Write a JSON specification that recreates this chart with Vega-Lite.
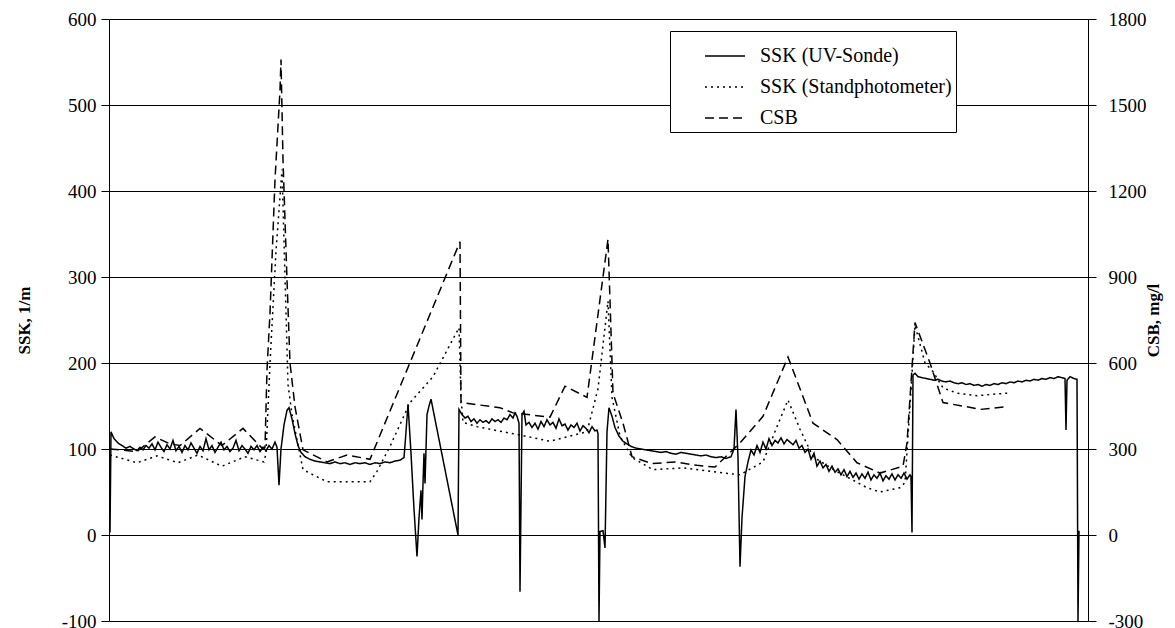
{
  "$schema": "https://vega.github.io/schema/vega-lite/v6.json",
  "autosize": {"type": "none"},
  "padding": {"left": 109, "top": 19, "right": 87, "bottom": 7},
  "width": 979,
  "height": 602,
  "background": "white",
  "config": {
    "view": {"stroke": null},
    "font": "Liberation Serif",
    "axis": {"labelFont": "Liberation Serif", "titleFont": "Liberation Serif", "labelColor": "black", "titleColor": "black", "domainColor": "black", "tickColor": "black"},
    "legend": {
      "orient": "none", "legendX": 561, "legendY": 12,
      "strokeColor": "black", "fillColor": "white", "padding": 4,
      "labelFont": "Liberation Serif", "labelFontSize": 20, "labelColor": "black", "labelLimit": 500,
      "symbolType": "stroke", "symbolStrokeWidth": 1.5, "symbolSize": 1600, "symbolStrokeColor": "black",
      "symbolOffset": 30, "labelOffset": 14, "rowPadding": 0, "title": null
    }
  },
  "datasets": {
    "ssk": [
      {"t":1,"series":"SSK (UV-Sonde)","v":3},{"t":2,"series":"SSK (UV-Sonde)","v":120},{"t":5,"series":"SSK (UV-Sonde)","v":112},{"t":9,"series":"SSK (UV-Sonde)","v":107},{"t":13,"series":"SSK (UV-Sonde)","v":104},{"t":17,"series":"SSK (UV-Sonde)","v":101},{"t":21,"series":"SSK (UV-Sonde)","v":103},{"t":25,"series":"SSK (UV-Sonde)","v":100},{"t":28,"series":"SSK (UV-Sonde)","v":98},{"t":31,"series":"SSK (UV-Sonde)","v":102},{"t":34,"series":"SSK (UV-Sonde)","v":99},{"t":37,"series":"SSK (UV-Sonde)","v":104},{"t":40,"series":"SSK (UV-Sonde)","v":101},{"t":43,"series":"SSK (UV-Sonde)","v":106},{"t":46,"series":"SSK (UV-Sonde)","v":99},{"t":49,"series":"SSK (UV-Sonde)","v":108},{"t":52,"series":"SSK (UV-Sonde)","v":102},{"t":55,"series":"SSK (UV-Sonde)","v":97},{"t":58,"series":"SSK (UV-Sonde)","v":105},{"t":61,"series":"SSK (UV-Sonde)","v":100},{"t":64,"series":"SSK (UV-Sonde)","v":110},{"t":67,"series":"SSK (UV-Sonde)","v":98},{"t":70,"series":"SSK (UV-Sonde)","v":103},{"t":73,"series":"SSK (UV-Sonde)","v":96},{"t":76,"series":"SSK (UV-Sonde)","v":104},{"t":79,"series":"SSK (UV-Sonde)","v":99},{"t":82,"series":"SSK (UV-Sonde)","v":107},{"t":85,"series":"SSK (UV-Sonde)","v":101},{"t":88,"series":"SSK (UV-Sonde)","v":95},{"t":91,"series":"SSK (UV-Sonde)","v":103},{"t":94,"series":"SSK (UV-Sonde)","v":98},{"t":97,"series":"SSK (UV-Sonde)","v":112},{"t":100,"series":"SSK (UV-Sonde)","v":99},{"t":103,"series":"SSK (UV-Sonde)","v":104},{"t":106,"series":"SSK (UV-Sonde)","v":96},{"t":109,"series":"SSK (UV-Sonde)","v":102},{"t":112,"series":"SSK (UV-Sonde)","v":108},{"t":115,"series":"SSK (UV-Sonde)","v":99},{"t":118,"series":"SSK (UV-Sonde)","v":103},{"t":121,"series":"SSK (UV-Sonde)","v":97},{"t":124,"series":"SSK (UV-Sonde)","v":101},{"t":127,"series":"SSK (UV-Sonde)","v":110},{"t":130,"series":"SSK (UV-Sonde)","v":98},{"t":133,"series":"SSK (UV-Sonde)","v":104},{"t":136,"series":"SSK (UV-Sonde)","v":100},{"t":139,"series":"SSK (UV-Sonde)","v":95},{"t":142,"series":"SSK (UV-Sonde)","v":103},{"t":145,"series":"SSK (UV-Sonde)","v":99},{"t":148,"series":"SSK (UV-Sonde)","v":104},{"t":151,"series":"SSK (UV-Sonde)","v":97},{"t":154,"series":"SSK (UV-Sonde)","v":102},{"t":157,"series":"SSK (UV-Sonde)","v":98},{"t":160,"series":"SSK (UV-Sonde)","v":104},{"t":163,"series":"SSK (UV-Sonde)","v":100},{"t":166,"series":"SSK (UV-Sonde)","v":108},{"t":168,"series":"SSK (UV-Sonde)","v":102},{"t":170,"series":"SSK (UV-Sonde)","v":58},{"t":172,"series":"SSK (UV-Sonde)","v":100},{"t":175,"series":"SSK (UV-Sonde)","v":128},{"t":178,"series":"SSK (UV-Sonde)","v":145},{"t":180,"series":"SSK (UV-Sonde)","v":148},{"t":183,"series":"SSK (UV-Sonde)","v":135},{"t":186,"series":"SSK (UV-Sonde)","v":118},{"t":189,"series":"SSK (UV-Sonde)","v":104},{"t":192,"series":"SSK (UV-Sonde)","v":96},{"t":196,"series":"SSK (UV-Sonde)","v":91},{"t":201,"series":"SSK (UV-Sonde)","v":88},{"t":206,"series":"SSK (UV-Sonde)","v":86},{"t":211,"series":"SSK (UV-Sonde)","v":85},{"t":216,"series":"SSK (UV-Sonde)","v":84},{"t":221,"series":"SSK (UV-Sonde)","v":83},{"t":226,"series":"SSK (UV-Sonde)","v":85},{"t":231,"series":"SSK (UV-Sonde)","v":83},{"t":236,"series":"SSK (UV-Sonde)","v":84},{"t":241,"series":"SSK (UV-Sonde)","v":82},{"t":246,"series":"SSK (UV-Sonde)","v":84},{"t":251,"series":"SSK (UV-Sonde)","v":83},{"t":256,"series":"SSK (UV-Sonde)","v":84},{"t":261,"series":"SSK (UV-Sonde)","v":82},{"t":266,"series":"SSK (UV-Sonde)","v":84},{"t":271,"series":"SSK (UV-Sonde)","v":83},{"t":276,"series":"SSK (UV-Sonde)","v":85},{"t":281,"series":"SSK (UV-Sonde)","v":84},{"t":286,"series":"SSK (UV-Sonde)","v":86},{"t":291,"series":"SSK (UV-Sonde)","v":87},{"t":295,"series":"SSK (UV-Sonde)","v":90},{"t":297,"series":"SSK (UV-Sonde)","v":120},{"t":299,"series":"SSK (UV-Sonde)","v":152},{"t":302,"series":"SSK (UV-Sonde)","v":95},{"t":305,"series":"SSK (UV-Sonde)","v":30},{"t":308,"series":"SSK (UV-Sonde)","v":-25},{"t":310,"series":"SSK (UV-Sonde)","v":20},{"t":312,"series":"SSK (UV-Sonde)","v":52},{"t":313,"series":"SSK (UV-Sonde)","v":18},{"t":314,"series":"SSK (UV-Sonde)","v":60},{"t":315,"series":"SSK (UV-Sonde)","v":95},{"t":316,"series":"SSK (UV-Sonde)","v":60},{"t":318,"series":"SSK (UV-Sonde)","v":140},{"t":320,"series":"SSK (UV-Sonde)","v":150},{"t":322,"series":"SSK (UV-Sonde)","v":158},{"t":349,"series":"SSK (UV-Sonde)","v":0},{"t":350,"series":"SSK (UV-Sonde)","v":146},{"t":353,"series":"SSK (UV-Sonde)","v":140},{"t":356,"series":"SSK (UV-Sonde)","v":136},{"t":359,"series":"SSK (UV-Sonde)","v":138},{"t":362,"series":"SSK (UV-Sonde)","v":132},{"t":365,"series":"SSK (UV-Sonde)","v":135},{"t":368,"series":"SSK (UV-Sonde)","v":130},{"t":371,"series":"SSK (UV-Sonde)","v":134},{"t":374,"series":"SSK (UV-Sonde)","v":131},{"t":377,"series":"SSK (UV-Sonde)","v":133},{"t":380,"series":"SSK (UV-Sonde)","v":130},{"t":383,"series":"SSK (UV-Sonde)","v":135},{"t":386,"series":"SSK (UV-Sonde)","v":132},{"t":389,"series":"SSK (UV-Sonde)","v":134},{"t":392,"series":"SSK (UV-Sonde)","v":131},{"t":395,"series":"SSK (UV-Sonde)","v":136},{"t":398,"series":"SSK (UV-Sonde)","v":134},{"t":401,"series":"SSK (UV-Sonde)","v":140},{"t":404,"series":"SSK (UV-Sonde)","v":136},{"t":406,"series":"SSK (UV-Sonde)","v":142},{"t":408,"series":"SSK (UV-Sonde)","v":138},{"t":410,"series":"SSK (UV-Sonde)","v":130},{"t":411,"series":"SSK (UV-Sonde)","v":-66},{"t":413,"series":"SSK (UV-Sonde)","v":140},{"t":415,"series":"SSK (UV-Sonde)","v":144},{"t":417,"series":"SSK (UV-Sonde)","v":128},{"t":420,"series":"SSK (UV-Sonde)","v":131},{"t":423,"series":"SSK (UV-Sonde)","v":125},{"t":426,"series":"SSK (UV-Sonde)","v":130},{"t":429,"series":"SSK (UV-Sonde)","v":123},{"t":432,"series":"SSK (UV-Sonde)","v":132},{"t":435,"series":"SSK (UV-Sonde)","v":126},{"t":438,"series":"SSK (UV-Sonde)","v":134},{"t":441,"series":"SSK (UV-Sonde)","v":128},{"t":444,"series":"SSK (UV-Sonde)","v":131},{"t":447,"series":"SSK (UV-Sonde)","v":124},{"t":450,"series":"SSK (UV-Sonde)","v":135},{"t":453,"series":"SSK (UV-Sonde)","v":127},{"t":456,"series":"SSK (UV-Sonde)","v":129},{"t":459,"series":"SSK (UV-Sonde)","v":122},{"t":462,"series":"SSK (UV-Sonde)","v":128},{"t":465,"series":"SSK (UV-Sonde)","v":125},{"t":468,"series":"SSK (UV-Sonde)","v":130},{"t":471,"series":"SSK (UV-Sonde)","v":121},{"t":474,"series":"SSK (UV-Sonde)","v":127},{"t":477,"series":"SSK (UV-Sonde)","v":124},{"t":480,"series":"SSK (UV-Sonde)","v":119},{"t":483,"series":"SSK (UV-Sonde)","v":126},{"t":486,"series":"SSK (UV-Sonde)","v":121},{"t":488,"series":"SSK (UV-Sonde)","v":122},{"t":489,"series":"SSK (UV-Sonde)","v":118},{"t":490,"series":"SSK (UV-Sonde)","v":-100},{"t":491,"series":"SSK (UV-Sonde)","v":4},{"t":494,"series":"SSK (UV-Sonde)","v":5},{"t":496,"series":"SSK (UV-Sonde)","v":-15},{"t":498,"series":"SSK (UV-Sonde)","v":120},{"t":500,"series":"SSK (UV-Sonde)","v":148},{"t":503,"series":"SSK (UV-Sonde)","v":138},{"t":506,"series":"SSK (UV-Sonde)","v":125},{"t":510,"series":"SSK (UV-Sonde)","v":115},{"t":514,"series":"SSK (UV-Sonde)","v":109},{"t":518,"series":"SSK (UV-Sonde)","v":106},{"t":522,"series":"SSK (UV-Sonde)","v":103},{"t":527,"series":"SSK (UV-Sonde)","v":101},{"t":532,"series":"SSK (UV-Sonde)","v":100},{"t":537,"series":"SSK (UV-Sonde)","v":99},{"t":542,"series":"SSK (UV-Sonde)","v":98},{"t":547,"series":"SSK (UV-Sonde)","v":97},{"t":552,"series":"SSK (UV-Sonde)","v":96},{"t":557,"series":"SSK (UV-Sonde)","v":97},{"t":562,"series":"SSK (UV-Sonde)","v":95},{"t":567,"series":"SSK (UV-Sonde)","v":94},{"t":572,"series":"SSK (UV-Sonde)","v":96},{"t":577,"series":"SSK (UV-Sonde)","v":95},{"t":582,"series":"SSK (UV-Sonde)","v":94},{"t":587,"series":"SSK (UV-Sonde)","v":93},{"t":592,"series":"SSK (UV-Sonde)","v":92},{"t":597,"series":"SSK (UV-Sonde)","v":93},{"t":602,"series":"SSK (UV-Sonde)","v":91},{"t":607,"series":"SSK (UV-Sonde)","v":90},{"t":612,"series":"SSK (UV-Sonde)","v":91},{"t":617,"series":"SSK (UV-Sonde)","v":89},{"t":622,"series":"SSK (UV-Sonde)","v":91},{"t":625,"series":"SSK (UV-Sonde)","v":100},{"t":627,"series":"SSK (UV-Sonde)","v":146},{"t":629,"series":"SSK (UV-Sonde)","v":90},{"t":631,"series":"SSK (UV-Sonde)","v":-37},{"t":633,"series":"SSK (UV-Sonde)","v":20},{"t":636,"series":"SSK (UV-Sonde)","v":68},{"t":639,"series":"SSK (UV-Sonde)","v":85},{"t":642,"series":"SSK (UV-Sonde)","v":99},{"t":645,"series":"SSK (UV-Sonde)","v":93},{"t":648,"series":"SSK (UV-Sonde)","v":104},{"t":651,"series":"SSK (UV-Sonde)","v":96},{"t":654,"series":"SSK (UV-Sonde)","v":108},{"t":657,"series":"SSK (UV-Sonde)","v":100},{"t":660,"series":"SSK (UV-Sonde)","v":112},{"t":663,"series":"SSK (UV-Sonde)","v":104},{"t":666,"series":"SSK (UV-Sonde)","v":110},{"t":669,"series":"SSK (UV-Sonde)","v":107},{"t":672,"series":"SSK (UV-Sonde)","v":113},{"t":675,"series":"SSK (UV-Sonde)","v":106},{"t":678,"series":"SSK (UV-Sonde)","v":111},{"t":681,"series":"SSK (UV-Sonde)","v":108},{"t":684,"series":"SSK (UV-Sonde)","v":105},{"t":687,"series":"SSK (UV-Sonde)","v":110},{"t":690,"series":"SSK (UV-Sonde)","v":101},{"t":693,"series":"SSK (UV-Sonde)","v":104},{"t":696,"series":"SSK (UV-Sonde)","v":96},{"t":699,"series":"SSK (UV-Sonde)","v":100},{"t":702,"series":"SSK (UV-Sonde)","v":88},{"t":705,"series":"SSK (UV-Sonde)","v":95},{"t":708,"series":"SSK (UV-Sonde)","v":80},{"t":711,"series":"SSK (UV-Sonde)","v":86},{"t":714,"series":"SSK (UV-Sonde)","v":78},{"t":717,"series":"SSK (UV-Sonde)","v":82},{"t":720,"series":"SSK (UV-Sonde)","v":74},{"t":723,"series":"SSK (UV-Sonde)","v":80},{"t":726,"series":"SSK (UV-Sonde)","v":73},{"t":729,"series":"SSK (UV-Sonde)","v":77},{"t":732,"series":"SSK (UV-Sonde)","v":70},{"t":735,"series":"SSK (UV-Sonde)","v":76},{"t":738,"series":"SSK (UV-Sonde)","v":68},{"t":741,"series":"SSK (UV-Sonde)","v":74},{"t":744,"series":"SSK (UV-Sonde)","v":67},{"t":747,"series":"SSK (UV-Sonde)","v":72},{"t":750,"series":"SSK (UV-Sonde)","v":65},{"t":753,"series":"SSK (UV-Sonde)","v":71},{"t":756,"series":"SSK (UV-Sonde)","v":66},{"t":759,"series":"SSK (UV-Sonde)","v":73},{"t":762,"series":"SSK (UV-Sonde)","v":64},{"t":765,"series":"SSK (UV-Sonde)","v":70},{"t":768,"series":"SSK (UV-Sonde)","v":66},{"t":771,"series":"SSK (UV-Sonde)","v":72},{"t":774,"series":"SSK (UV-Sonde)","v":63},{"t":777,"series":"SSK (UV-Sonde)","v":69},{"t":780,"series":"SSK (UV-Sonde)","v":65},{"t":783,"series":"SSK (UV-Sonde)","v":71},{"t":786,"series":"SSK (UV-Sonde)","v":64},{"t":789,"series":"SSK (UV-Sonde)","v":70},{"t":792,"series":"SSK (UV-Sonde)","v":66},{"t":795,"series":"SSK (UV-Sonde)","v":72},{"t":798,"series":"SSK (UV-Sonde)","v":65},{"t":801,"series":"SSK (UV-Sonde)","v":70},{"t":802,"series":"SSK (UV-Sonde)","v":68},{"t":803,"series":"SSK (UV-Sonde)","v":3},{"t":804,"series":"SSK (UV-Sonde)","v":186},{"t":806,"series":"SSK (UV-Sonde)","v":188},{"t":809,"series":"SSK (UV-Sonde)","v":184},{"t":813,"series":"SSK (UV-Sonde)","v":183},{"t":817,"series":"SSK (UV-Sonde)","v":182},{"t":821,"series":"SSK (UV-Sonde)","v":181},{"t":825,"series":"SSK (UV-Sonde)","v":180},{"t":829,"series":"SSK (UV-Sonde)","v":181},{"t":833,"series":"SSK (UV-Sonde)","v":179},{"t":837,"series":"SSK (UV-Sonde)","v":178},{"t":841,"series":"SSK (UV-Sonde)","v":179},{"t":845,"series":"SSK (UV-Sonde)","v":177},{"t":849,"series":"SSK (UV-Sonde)","v":176},{"t":853,"series":"SSK (UV-Sonde)","v":177},{"t":857,"series":"SSK (UV-Sonde)","v":175},{"t":861,"series":"SSK (UV-Sonde)","v":176},{"t":865,"series":"SSK (UV-Sonde)","v":174},{"t":869,"series":"SSK (UV-Sonde)","v":175},{"t":873,"series":"SSK (UV-Sonde)","v":173},{"t":877,"series":"SSK (UV-Sonde)","v":175},{"t":881,"series":"SSK (UV-Sonde)","v":174},{"t":885,"series":"SSK (UV-Sonde)","v":176},{"t":889,"series":"SSK (UV-Sonde)","v":175},{"t":893,"series":"SSK (UV-Sonde)","v":177},{"t":897,"series":"SSK (UV-Sonde)","v":176},{"t":901,"series":"SSK (UV-Sonde)","v":178},{"t":905,"series":"SSK (UV-Sonde)","v":177},{"t":909,"series":"SSK (UV-Sonde)","v":179},{"t":913,"series":"SSK (UV-Sonde)","v":178},{"t":917,"series":"SSK (UV-Sonde)","v":180},{"t":921,"series":"SSK (UV-Sonde)","v":179},{"t":925,"series":"SSK (UV-Sonde)","v":181},{"t":929,"series":"SSK (UV-Sonde)","v":180},{"t":933,"series":"SSK (UV-Sonde)","v":182},{"t":937,"series":"SSK (UV-Sonde)","v":181},{"t":941,"series":"SSK (UV-Sonde)","v":183},{"t":945,"series":"SSK (UV-Sonde)","v":182},{"t":949,"series":"SSK (UV-Sonde)","v":184},{"t":953,"series":"SSK (UV-Sonde)","v":183},{"t":956,"series":"SSK (UV-Sonde)","v":182},{"t":957,"series":"SSK (UV-Sonde)","v":122},{"t":958,"series":"SSK (UV-Sonde)","v":180},{"t":961,"series":"SSK (UV-Sonde)","v":184},{"t":965,"series":"SSK (UV-Sonde)","v":182},{"t":968,"series":"SSK (UV-Sonde)","v":181},{"t":969,"series":"SSK (UV-Sonde)","v":-100},{"t":970,"series":"SSK (UV-Sonde)","v":5},
      {"t":1,"series":"SSK (Standphotometer)","v":93},{"t":28,"series":"SSK (Standphotometer)","v":84},{"t":48,"series":"SSK (Standphotometer)","v":92},{"t":69,"series":"SSK (Standphotometer)","v":84},{"t":89,"series":"SSK (Standphotometer)","v":93},{"t":113,"series":"SSK (Standphotometer)","v":80},{"t":136,"series":"SSK (Standphotometer)","v":91},{"t":155,"series":"SSK (Standphotometer)","v":85},{"t":157,"series":"SSK (Standphotometer)","v":95},{"t":161,"series":"SSK (Standphotometer)","v":200},{"t":167,"series":"SSK (Standphotometer)","v":330},{"t":173,"series":"SSK (Standphotometer)","v":425},{"t":176,"series":"SSK (Standphotometer)","v":300},{"t":179,"series":"SSK (Standphotometer)","v":175},{"t":183,"series":"SSK (Standphotometer)","v":140},{"t":188,"series":"SSK (Standphotometer)","v":111},{"t":194,"series":"SSK (Standphotometer)","v":76},{"t":204,"series":"SSK (Standphotometer)","v":70},{"t":218,"series":"SSK (Standphotometer)","v":62},{"t":261,"series":"SSK (Standphotometer)","v":62},{"t":268,"series":"SSK (Standphotometer)","v":74},{"t":281,"series":"SSK (Standphotometer)","v":103},{"t":301,"series":"SSK (Standphotometer)","v":154},{"t":324,"series":"SSK (Standphotometer)","v":184},{"t":350,"series":"SSK (Standphotometer)","v":241},{"t":352,"series":"SSK (Standphotometer)","v":160},{"t":354,"series":"SSK (Standphotometer)","v":131},{"t":368,"series":"SSK (Standphotometer)","v":126},{"t":394,"series":"SSK (Standphotometer)","v":120},{"t":408,"series":"SSK (Standphotometer)","v":117},{"t":441,"series":"SSK (Standphotometer)","v":109},{"t":478,"series":"SSK (Standphotometer)","v":120},{"t":489,"series":"SSK (Standphotometer)","v":170},{"t":499,"series":"SSK (Standphotometer)","v":272},{"t":503,"series":"SSK (Standphotometer)","v":160},{"t":511,"series":"SSK (Standphotometer)","v":115},{"t":523,"series":"SSK (Standphotometer)","v":90},{"t":544,"series":"SSK (Standphotometer)","v":76},{"t":574,"series":"SSK (Standphotometer)","v":78},{"t":608,"series":"SSK (Standphotometer)","v":73},{"t":631,"series":"SSK (Standphotometer)","v":70},{"t":654,"series":"SSK (Standphotometer)","v":85},{"t":668,"series":"SSK (Standphotometer)","v":126},{"t":679,"series":"SSK (Standphotometer)","v":157},{"t":691,"series":"SSK (Standphotometer)","v":123},{"t":704,"series":"SSK (Standphotometer)","v":91},{"t":726,"series":"SSK (Standphotometer)","v":75},{"t":758,"series":"SSK (Standphotometer)","v":55},{"t":771,"series":"SSK (Standphotometer)","v":50},{"t":791,"series":"SSK (Standphotometer)","v":55},{"t":796,"series":"SSK (Standphotometer)","v":61},{"t":801,"series":"SSK (Standphotometer)","v":150},{"t":806,"series":"SSK (Standphotometer)","v":244},{"t":816,"series":"SSK (Standphotometer)","v":200},{"t":824,"series":"SSK (Standphotometer)","v":190},{"t":834,"series":"SSK (Standphotometer)","v":171},{"t":848,"series":"SSK (Standphotometer)","v":165},{"t":868,"series":"SSK (Standphotometer)","v":162},{"t":888,"series":"SSK (Standphotometer)","v":164},{"t":899,"series":"SSK (Standphotometer)","v":165}
    ],
    "csb": [
      {"t":1,"series":"CSB","v":300},{"t":28,"series":"CSB","v":291},{"t":46,"series":"CSB","v":342},{"t":61,"series":"CSB","v":318},{"t":71,"series":"CSB","v":312},{"t":91,"series":"CSB","v":372},{"t":113,"series":"CSB","v":312},{"t":134,"series":"CSB","v":372},{"t":153,"series":"CSB","v":303},{"t":156,"series":"CSB","v":306},{"t":158,"series":"CSB","v":576},{"t":161,"series":"CSB","v":774},{"t":166,"series":"CSB","v":1239},{"t":171,"series":"CSB","v":1551},{"t":172,"series":"CSB","v":1659},{"t":174,"series":"CSB","v":1308},{"t":178,"series":"CSB","v":891},{"t":181,"series":"CSB","v":600},{"t":186,"series":"CSB","v":447},{"t":194,"series":"CSB","v":297},{"t":218,"series":"CSB","v":255},{"t":238,"series":"CSB","v":279},{"t":261,"series":"CSB","v":264},{"t":351,"series":"CSB","v":1023},{"t":352,"series":"CSB","v":462},{"t":391,"series":"CSB","v":444},{"t":404,"series":"CSB","v":426},{"t":441,"series":"CSB","v":411},{"t":456,"series":"CSB","v":519},{"t":478,"series":"CSB","v":480},{"t":499,"series":"CSB","v":1032},{"t":504,"series":"CSB","v":495},{"t":514,"series":"CSB","v":390},{"t":523,"series":"CSB","v":273},{"t":543,"series":"CSB","v":249},{"t":566,"series":"CSB","v":255},{"t":588,"series":"CSB","v":243},{"t":606,"series":"CSB","v":237},{"t":631,"series":"CSB","v":321},{"t":654,"series":"CSB","v":414},{"t":679,"series":"CSB","v":621},{"t":704,"series":"CSB","v":390},{"t":728,"series":"CSB","v":333},{"t":748,"series":"CSB","v":252},{"t":771,"series":"CSB","v":216},{"t":794,"series":"CSB","v":240},{"t":798,"series":"CSB","v":321},{"t":806,"series":"CSB","v":741},{"t":821,"series":"CSB","v":600},{"t":834,"series":"CSB","v":462},{"t":858,"series":"CSB","v":447},{"t":871,"series":"CSB","v":438},{"t":896,"series":"CSB","v":447}
    ]
  },
  "encoding": {
    "x": {"field": "t", "type": "quantitative", "scale": {"domain": [0, 979], "nice": false, "zero": false}, "axis": null}
  },
  "layer": [
    {
      "data": {"name": "ssk"},
      "mark": {"type": "line", "color": "black", "strokeWidth": 1.5, "clip": true},
      "encoding": {
        "y": {"field": "v", "type": "quantitative", "scale": {"domain": [-100, 600], "nice": false, "zero": false},
          "axis": {"orient": "left", "values": [-100, 0, 100, 200, 300, 400, 500, 600], "labelExpr": "toString(datum.value)", "grid": true, "gridColor": "black", "gridWidth": 1, "tickSize": 8, "labelFontSize": 19, "labelPadding": 5, "title": "SSK, 1/m", "titleFontSize": 17, "titleFontWeight": "bold", "titlePadding": 28}},
        "strokeDash": {"field": "series", "type": "nominal", "scale": {"domain": ["SSK (UV-Sonde)", "SSK (Standphotometer)", "CSB"], "range": [[1, 0], [2, 4], [9, 5]]}, "legend": {}}
      }
    },
    {
      "data": {"name": "csb"},
      "mark": {"type": "line", "color": "black", "strokeWidth": 1.5, "clip": true},
      "encoding": {
        "y": {"field": "v", "type": "quantitative", "scale": {"domain": [-300, 1800], "nice": false, "zero": false},
          "axis": {"orient": "right", "values": [-300, 0, 300, 600, 900, 1200, 1500, 1800], "labelExpr": "toString(datum.value)", "grid": false, "tickSize": 8, "labelFontSize": 19, "labelPadding": 12, "title": "CSB, mg/l", "titleAngle": 270, "titleFontSize": 17, "titleFontWeight": "bold", "titlePadding": 16}},
        "strokeDash": {"field": "series", "type": "nominal"}
      }
    }
  ],
  "resolve": {"scale": {"y": "independent"}}
}
